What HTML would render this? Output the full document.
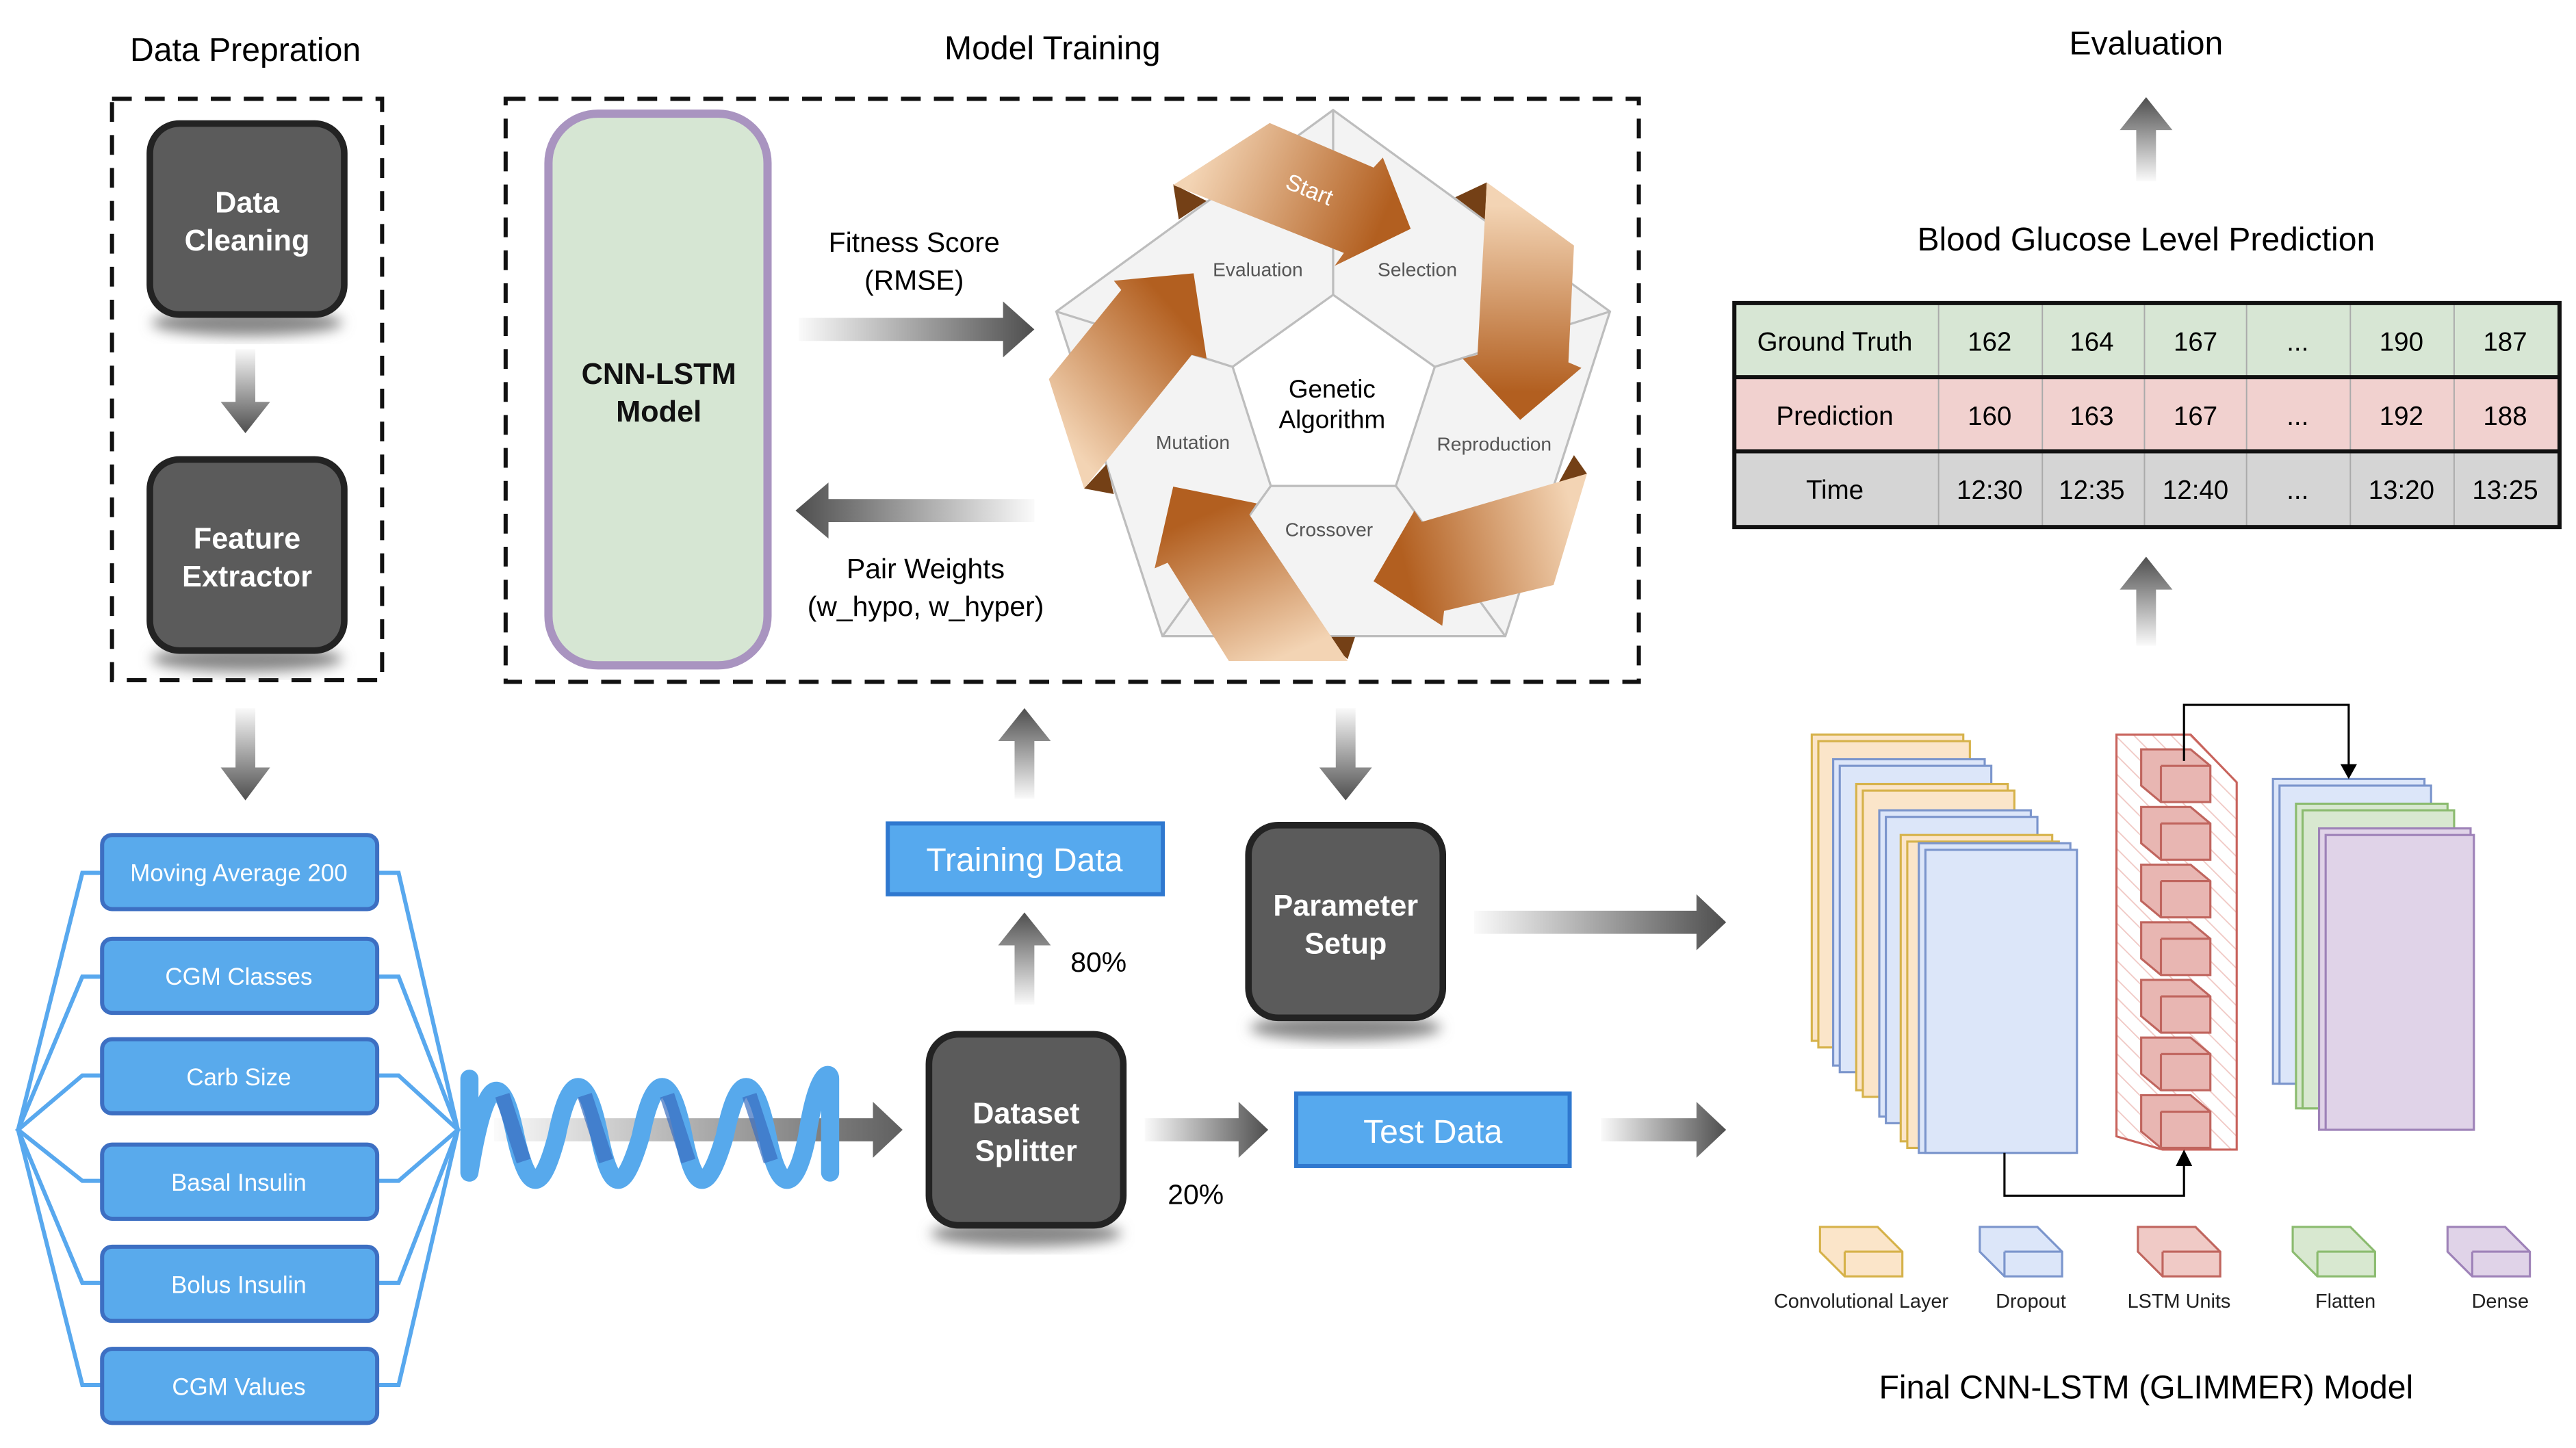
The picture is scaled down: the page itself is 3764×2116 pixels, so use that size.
<!DOCTYPE html>
<html><head><meta charset="utf-8"><style>html,body{margin:0;padding:0;background:#fff}svg{display:block}</style></head><body>
<svg xmlns="http://www.w3.org/2000/svg" width="3764" height="2116" viewBox="0 0 1564 879.2" font-family="Liberation Sans, sans-serif">
<defs>
<linearGradient id="gR" x1="0" y1="0" x2="1" y2="0"><stop offset="0" stop-color="#fafafa"/><stop offset="1" stop-color="#4e4e4e"/></linearGradient>
<linearGradient id="gL" x1="1" y1="0" x2="0" y2="0"><stop offset="0" stop-color="#fafafa"/><stop offset="1" stop-color="#4e4e4e"/></linearGradient>
<linearGradient id="gD" x1="0" y1="0" x2="0" y2="1"><stop offset="0" stop-color="#fafafa"/><stop offset="1" stop-color="#4e4e4e"/></linearGradient>
<linearGradient id="gU" x1="0" y1="1" x2="0" y2="0"><stop offset="0" stop-color="#fafafa"/><stop offset="1" stop-color="#4e4e4e"/></linearGradient>
<linearGradient id="o1" gradientUnits="userSpaceOnUse" x1="420" y1="130" x2="900" y2="330"><stop offset="0" stop-color="#f3d4b4"/><stop offset="1" stop-color="#b25f20"/></linearGradient>
<linearGradient id="o2" gradientUnits="userSpaceOnUse" x1="1300" y1="280" x2="1290" y2="780"><stop offset="0" stop-color="#f3d4b4"/><stop offset="1" stop-color="#b25f20"/></linearGradient>
<linearGradient id="o3" gradientUnits="userSpaceOnUse" x1="1420" y1="1120" x2="960" y2="1230"><stop offset="0" stop-color="#f3d4b4"/><stop offset="1" stop-color="#b25f20"/></linearGradient>
<linearGradient id="o4" gradientUnits="userSpaceOnUse" x1="620" y1="1500" x2="450" y2="1100"><stop offset="0" stop-color="#f3d4b4"/><stop offset="1" stop-color="#b25f20"/></linearGradient>
<linearGradient id="o5" gradientUnits="userSpaceOnUse" x1="40" y1="900" x2="380" y2="600"><stop offset="0" stop-color="#f3d4b4"/><stop offset="1" stop-color="#b25f20"/></linearGradient>
<filter id="sh" x="-30%" y="-30%" width="160%" height="160%"><feGaussianBlur stdDeviation="4"/></filter>
<pattern id="hatch" width="8" height="8" patternUnits="userSpaceOnUse" patternTransform="rotate(-45)"><rect width="8" height="8" fill="#fff"/><line x1="0" y1="0" x2="0" y2="8" stroke="#f0c8c4" stroke-width="1.5"/></pattern>
</defs>

<g font-size="20" fill="#000" text-anchor="middle">
<text x="149" y="37">Data Prepration</text>
<text x="639" y="36">Model Training</text>
<text x="1303" y="33">Evaluation</text>
<text x="1303" y="152">Blood Glucose Level Prediction</text>
<text x="1303" y="849">Final CNN-LSTM (GLIMMER) Model</text>
</g>

<rect x="68" y="60" width="164" height="353" fill="none" stroke="#111" stroke-width="2.5" stroke-dasharray="12,8"/>
<rect x="307" y="60" width="688" height="354" fill="none" stroke="#111" stroke-width="2.5" stroke-dasharray="12,8"/>

<g>
<ellipse cx="150" cy="196" rx="58" ry="8" fill="#888" filter="url(#sh)"/>
<rect x="91" y="75" width="118" height="116" rx="18" fill="#5b5b5b" stroke="#232323" stroke-width="4"/>
<ellipse cx="150" cy="400" rx="58" ry="8" fill="#888" filter="url(#sh)"/>
<rect x="91" y="279" width="118" height="116" rx="18" fill="#5b5b5b" stroke="#232323" stroke-width="4"/>
<ellipse cx="817" cy="624" rx="58" ry="8" fill="#888" filter="url(#sh)"/>
<rect x="758" y="501" width="118" height="117" rx="18" fill="#5b5b5b" stroke="#232323" stroke-width="4"/>
<ellipse cx="623" cy="749" rx="58" ry="8" fill="#888" filter="url(#sh)"/>
<rect x="564" y="628" width="118" height="116" rx="18" fill="#5b5b5b" stroke="#232323" stroke-width="4"/>
</g>
<g font-size="18" font-weight="bold" fill="#fff" text-anchor="middle">
<text x="150" y="129">Data</text><text x="150" y="152">Cleaning</text>
<text x="150" y="333">Feature</text><text x="150" y="356">Extractor</text>
<text x="817" y="556">Parameter</text><text x="817" y="579">Setup</text>
<text x="623" y="682">Dataset</text><text x="623" y="705">Splitter</text>
</g>

<rect x="333" y="69" width="133" height="335" rx="30" fill="#d6e6d3" stroke="#a994c0" stroke-width="5"/>
<g font-size="18" font-weight="bold" fill="#111" text-anchor="middle"><text x="400" y="233">CNN-LSTM</text><text x="400" y="256">Model</text></g>

<g font-size="17" fill="#000" text-anchor="middle">
<text x="555" y="153">Fitness Score</text><text x="555" y="176">(RMSE)</text>
<text x="562" y="351">Pair Weights</text><text x="562" y="374">(w_hypo, w_hyper)</text>
<text x="667" y="590">80%</text>
<text x="726" y="731">20%</text>
</g>

<path d="M485 193 H609 V183 L628 200 L609 217 V207 H485 Z" fill="url(#gR)"/>
<path d="M628 303 H503 V293 L483 310 L503 327 V317 H628 Z" fill="url(#gL)"/>
<path d="M143 212 V244 H134 L149 263 L164 244 H155 V212 Z" fill="url(#gD)"/>
<path d="M143 430 V466 H134 L149 486 L164 466 H155 V430 Z" fill="url(#gD)"/>
<path d="M616 485 V450 H606 L622 430 L638 450 H628 V485 Z" fill="url(#gU)"/>
<path d="M616 610 V574 H606 L622 554 L638 574 H628 V610 Z" fill="url(#gU)"/>
<path d="M811 430 V466 H801 L817 486 L833 466 H823 V430 Z" fill="url(#gD)"/>
<path d="M1297 110 V79 H1287 L1303 59 L1319 79 H1309 V110 Z" fill="url(#gU)"/>
<path d="M1297 392 V358 H1287 L1303 338 L1319 358 H1309 V392 Z" fill="url(#gU)"/>
<path d="M895 553 H1030 V543 L1048 560 L1030 577 V567 H895 Z" fill="url(#gR)"/>
<path d="M695 679 H752 V669 L770 686 L752 703 V693 H695 Z" fill="url(#gR)"/>
<path d="M972 679 H1030 V669 L1048 686 L1030 703 V693 H972 Z" fill="url(#gR)"/>
<path d="M300 679 H530 V669 L548 686 L530 703 V693 H300 Z" fill="url(#gR)" opacity="0.9"/>

<rect x="539" y="500" width="167" height="43" fill="#56a9ee" stroke="#2f78cf" stroke-width="2.5"/>
<text x="622" y="529" font-size="20" fill="#fff" text-anchor="middle">Training Data</text>
<rect x="787" y="664" width="166" height="44" fill="#56a9ee" stroke="#2f78cf" stroke-width="2.5"/>
<text x="870" y="694" font-size="20" fill="#fff" text-anchor="middle">Test Data</text>

<g fill="none" stroke="#58a8ee" stroke-width="2.5">
<polyline points="62,530 50,530 11,686 50,841 62,841"/>
<polyline points="62,593 50,593 11,686 50,779 62,779"/>
<polyline points="62,653 50,653 11,686 50,717 62,717"/>
<polyline points="229,530 242,530 278,686 242,841 229,841"/>
<polyline points="229,593 242,593 278,686 242,779 229,779"/>
<polyline points="229,653 242,653 278,686 242,717 229,717"/>
</g>
<g stroke="#3d6fc2" stroke-width="2.5" fill="#59aaec">
<rect x="62" y="507" width="167" height="45" rx="6"/>
<rect x="62" y="570" width="167" height="45" rx="6"/>
<rect x="62" y="631" width="167" height="45" rx="6"/>
<rect x="62" y="695" width="167" height="45" rx="6"/>
<rect x="62" y="757" width="167" height="45" rx="6"/>
<rect x="62" y="819" width="167" height="45" rx="6"/>
</g>
<g font-size="14.5" fill="#fff" text-anchor="middle">
<text x="145" y="535">Moving Average 200</text>
<text x="145" y="598">CGM Classes</text>
<text x="145" y="659">Carb Size</text>
<text x="145" y="723">Basal Insulin</text>
<text x="145" y="785">Bolus Insulin</text>
<text x="145" y="847">CGM Values</text>
</g>

<path d="M285 655 V712 M285 712 C295 650 305 650 313 690 C322 730 330 720 338 690 C346 650 356 650 364 690 C372 730 380 720 389 690 C397 650 407 650 415 690 C423 730 431 720 440 690 C448 650 458 650 466 690 C474 730 484 720 490 690 C496 650 504 650 504 655 V712" fill="none" stroke="#57a9ec" stroke-width="11" stroke-linecap="round"/>
<path d="M305 665 L318 705 M355 665 L368 705 M405 665 L418 705 M455 665 L468 705" stroke="#3a6ec0" stroke-width="9" opacity="0.7"/>

<g transform="translate(635.7,62.3) scale(0.2253)">
<polygon points="771,20 1517,563 1235,1438 311,1438 25,563" fill="#f3f3f3" stroke="#bdbdbd" stroke-width="6"/>
<polygon points="771,518 1045,712 940,1033 603,1033 500,712" fill="#fff" stroke="#bdbdbd" stroke-width="6"/>
<g stroke="#bdbdbd" stroke-width="6"><line x1="771" y1="20" x2="771" y2="518"/><line x1="1517" y1="563" x2="1045" y2="712"/><line x1="1235" y1="1438" x2="940" y2="1033"/><line x1="311" y1="1438" x2="603" y2="1033"/><line x1="25" y1="563" x2="500" y2="712"/></g>
<g fill="#744016">
<polygon points="340,220 430,265 355,315"/>
<polygon points="1100,255 1185,215 1180,315"/>
<polygon points="1370,1040 1420,950 1455,1000"/>
<polygon points="745,1440 830,1440 810,1500"/>
<polygon points="100,1040 180,1055 160,975"/>
</g>
<polygon points="340,222 600,55 880,175 905,148 980,340 775,440 800,405" fill="url(#o1)"/>
<polygon points="1185,215 1420,385 1405,700 1440,715 1275,855 1120,690 1160,680" fill="url(#o2)"/>
<polygon points="1455,1000 1365,1300 1070,1370 1065,1410 880,1290 990,1100 1010,1130" fill="url(#o3)"/>
<polygon points="490,1505 810,1505 545,1110 565,1080 340,1035 290,1255 325,1240" fill="url(#o4)"/>
<polygon points="100,1040 5,745 200,505 180,480 395,460 430,690 390,680" fill="url(#o5)"/>
<text x="705" y="255" font-size="62" fill="#fff" text-anchor="middle" transform="rotate(22 705 240)">Start</text>
<g font-size="52" fill="#555" text-anchor="middle">
<text x="568" y="468">Evaluation</text><text x="998" y="468">Selection</text>
<text x="1205" y="938">Reproduction</text><text x="760" y="1168">Crossover</text><text x="393" y="933">Mutation</text>
</g>
<g font-size="68" fill="#000" text-anchor="middle"><text x="768" y="795">Genetic</text><text x="768" y="877">Algorithm</text></g>
</g>

<g>
<rect x="1053" y="184" width="501" height="45" fill="#d7e6d4"/>
<rect x="1053" y="229" width="501" height="45" fill="#f1d1cf"/>
<rect x="1053" y="274" width="501" height="46" fill="#d5d5d5"/>
<g stroke="#aaa" stroke-width="0.8"><line x1="1177" y1="184" x2="1177" y2="320"/><line x1="1240" y1="184" x2="1240" y2="320"/><line x1="1302" y1="184" x2="1302" y2="320"/><line x1="1364" y1="184" x2="1364" y2="320"/><line x1="1427" y1="184" x2="1427" y2="320"/><line x1="1490" y1="184" x2="1490" y2="320"/></g>
<g stroke="#111" stroke-width="2.5"><line x1="1053" y1="229" x2="1554" y2="229"/><line x1="1053" y1="274" x2="1554" y2="274"/></g>
<rect x="1053" y="184" width="501" height="136" fill="none" stroke="#111" stroke-width="2.5"/>
<g font-size="16" fill="#000" text-anchor="middle">
<text x="1114" y="213">Ground Truth</text><text x="1208" y="213">162</text><text x="1270" y="213">164</text><text x="1333" y="213">167</text><text x="1395" y="213">...</text><text x="1458" y="213">190</text><text x="1521" y="213">187</text>
<text x="1114" y="258">Prediction</text><text x="1208" y="258">160</text><text x="1270" y="258">163</text><text x="1333" y="258">167</text><text x="1395" y="258">...</text><text x="1458" y="258">192</text><text x="1521" y="258">188</text>
<text x="1114" y="303">Time</text><text x="1208" y="303">12:30</text><text x="1270" y="303">12:35</text><text x="1333" y="303">12:40</text><text x="1395" y="303">...</text><text x="1458" y="303">13:20</text><text x="1521" y="303">13:25</text>
</g>
</g>

<g stroke-width="1.3">
<g fill="#fbe5c9" stroke="#d6b24a"><rect x="1100" y="446" width="92" height="186"/><rect x="1104" y="450" width="92" height="186"/></g>
<g fill="#dce6f9" stroke="#7b95cc"><rect x="1113" y="461" width="92" height="186"/><rect x="1117" y="465" width="92" height="186"/></g>
<g fill="#fbe5c9" stroke="#d6b24a"><rect x="1127" y="476" width="92" height="186"/><rect x="1131" y="480" width="92" height="186"/></g>
<g fill="#dce6f9" stroke="#7b95cc"><rect x="1141" y="492" width="92" height="186"/><rect x="1145" y="496" width="92" height="186"/></g>
<g fill="#fbe5c9" stroke="#d6b24a"><rect x="1154" y="507" width="92" height="186"/><rect x="1158" y="511" width="92" height="186"/></g>
<g fill="#dce6f9" stroke="#7b95cc"><rect x="1165" y="512" width="92" height="188"/><rect x="1169" y="516" width="92" height="184"/></g>
<polygon points="1285,446 1330,446 1358,475 1358,698 1313,698 1285,690" fill="url(#hatch)" stroke="#c8635c"/>
<g fill="#e8b6b2" stroke="#c0655e">
<path d="M1300 455 h30 l12 10 v22 h-30 l-12 -10 z M1300 455 v22 M1312 465 h30 M1312 465 v22"/>
<path d="M1300 490 h30 l12 10 v22 h-30 l-12 -10 z M1312 500 h30 M1312 500 v22"/>
<path d="M1300 525 h30 l12 10 v22 h-30 l-12 -10 z M1312 535 h30 M1312 535 v22"/>
<path d="M1300 560 h30 l12 10 v22 h-30 l-12 -10 z M1312 570 h30 M1312 570 v22"/>
<path d="M1300 595 h30 l12 10 v22 h-30 l-12 -10 z M1312 605 h30 M1312 605 v22"/>
<path d="M1300 630 h30 l12 10 v22 h-30 l-12 -10 z M1312 640 h30 M1312 640 v22"/>
<path d="M1300 665 h30 l12 10 v22 h-30 l-12 -10 z M1312 675 h30 M1312 675 v22"/>
</g>
<g fill="#dce6f9" stroke="#7b95cc"><rect x="1380" y="473" width="92" height="185"/><rect x="1384" y="477" width="92" height="181"/></g>
<g fill="#d8e8d0" stroke="#8bbb6f"><rect x="1394" y="488" width="92" height="185"/><rect x="1398" y="492" width="92" height="181"/></g>
<g fill="#e0d3e8" stroke="#9e82b8"><rect x="1408" y="503" width="92" height="183"/><rect x="1412" y="507" width="90" height="179"/></g>
</g>
<g fill="none" stroke="#000" stroke-width="1.3">
<polyline points="1326,462 1326,428 1426,428 1426,466"/>
<polyline points="1217,700 1217,726 1326,726 1326,706"/>
</g>
<polygon points="1421,464 1431,464 1426,473" fill="#000"/>
<polygon points="1321,708 1331,708 1326,698" fill="#000"/>

<g stroke-width="1.3">
<g fill="#fbe5c9" stroke="#d6b24a"><path d="M1105 745 h35 l15 15 v15 h-35 l-15 -15 z M1120 760 h35 M1120 760 v15"/></g>
<g fill="#dce6f9" stroke="#7b95cc"><path d="M1202 745 h35 l15 15 v15 h-35 l-15 -15 z M1217 760 h35 M1217 760 v15"/></g>
<g fill="#f0cac6" stroke="#c0655e"><path d="M1298 745 h35 l15 15 v15 h-35 l-15 -15 z M1313 760 h35 M1313 760 v15"/></g>
<g fill="#d8e8d0" stroke="#8bbb6f"><path d="M1392 745 h35 l15 15 v15 h-35 l-15 -15 z M1407 760 h35 M1407 760 v15"/></g>
<g fill="#e0d3e8" stroke="#9e82b8"><path d="M1486 745 h35 l15 15 v15 h-35 l-15 -15 z M1501 760 h35 M1501 760 v15"/></g>
</g>
<g font-size="12" fill="#222" text-anchor="middle">
<text x="1130" y="794">Convolutional Layer</text><text x="1233" y="794">Dropout</text><text x="1323" y="794">LSTM Units</text><text x="1424" y="794">Flatten</text><text x="1518" y="794">Dense</text>
</g>
</svg>
</body></html>
